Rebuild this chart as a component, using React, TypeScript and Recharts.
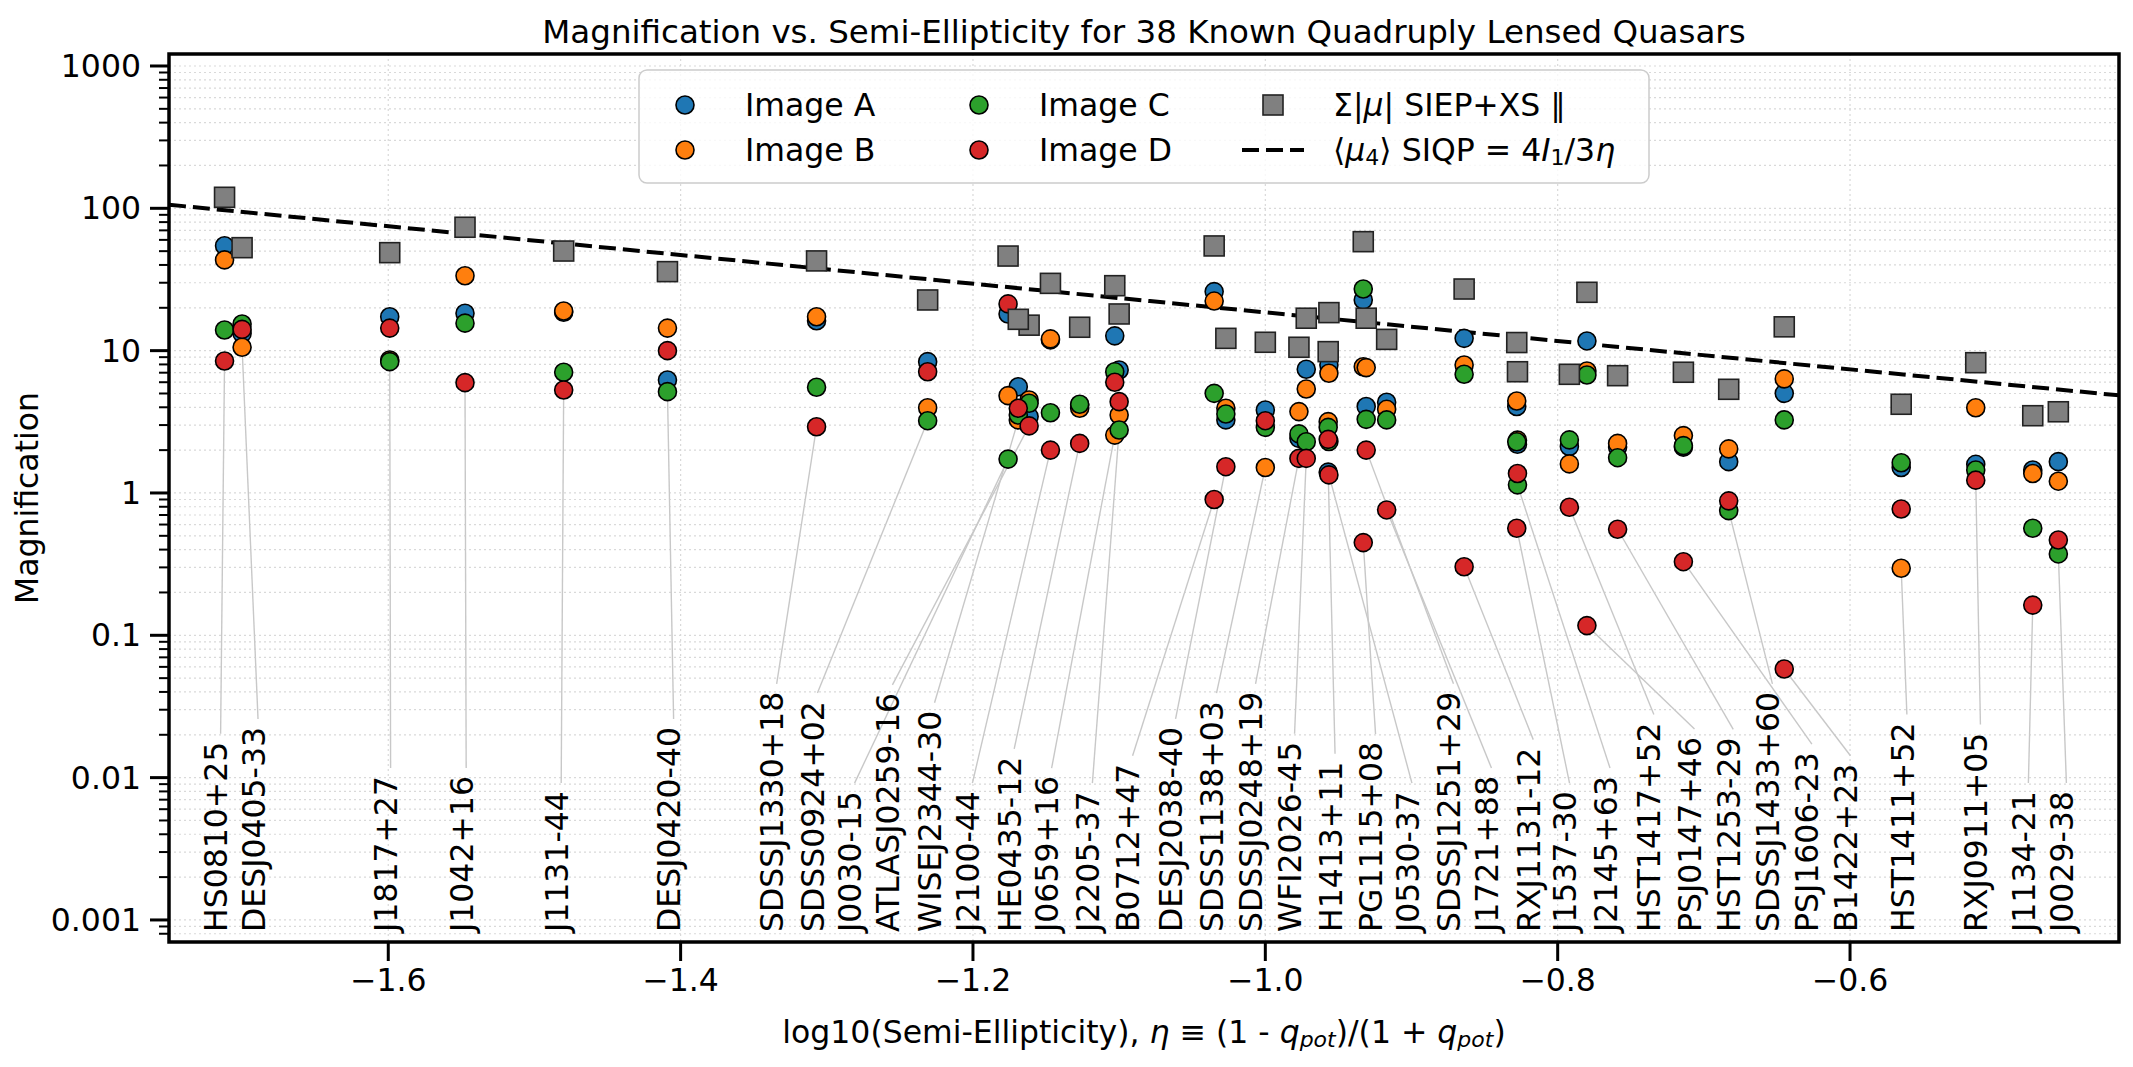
import React from 'react';
import { ScatterChart, Scatter, XAxis, YAxis, CartesianGrid, ReferenceArea } from 'recharts';

// lenses in label order (left to right)
const LENS_NAMES = [
  'HS0810+25', 'DESJ0405-33', 'J1817+27', 'J1042+16', 'J1131-44', 'DESJ0420-40', 'SDSSJ1330+18',
  'SDSS0924+02', 'J0030-15', 'ATLASJ0259-16', 'WISEJ2344-30', 'J2100-44', 'HE0435-12', 'J0659+16',
  'J2205-37', 'B0712+47', 'DESJ2038-40', 'SDSS1138+03', 'SDSSJ0248+19', 'WFI2026-45', 'H1413+11',
  'PG1115+08', 'J0530-37', 'SDSSJ1251+29', 'J1721+88', 'RXJ1131-12', 'J1537-30', 'J2145+63',
  'HST1417+52', 'PSJ0147+46', 'HST1253-29', 'SDSSJ1433+60', 'PSJ1606-23', 'B1422+23', 'HST1411+52',
  'RXJ0911+05', 'J1134-21', 'J0029-38',
];

// log10(eta) of each lens
const LOG_ETA = [
  -1.712, -1.7, -1.599, -1.5475, -1.48, -1.409, -1.307, -1.231, -1.176, -1.1616, -1.169, -1.147,
  -1.127, -1.103, -1.1, -1.035, -1.027, -1.0, -0.977, -0.972, -0.957, -0.933, -0.9565, -0.931,
  -0.917, -0.864, -0.828, -0.8275, -0.792, -0.78, -0.759, -0.683, -0.714, -0.645, -0.565, -0.514,
  -0.475, -0.4575,
];

const MU_A = [
  54.6, 13.2, 17.3, 18.3, 18.6, 6.22, 16.2, 8.37, 18.1, 3.44, 5.58, 11.9, 4.15, 12.7, 7.31, 26.0,
  3.26, 3.83, 2.42, 7.4, 1.4, 22.7, 7.93, 4.05, 4.34, 12.2, 4.05, 2.2, 2.12, 11.7, 2.1, 1.66, 2.1,
  5.01, 1.51, 1.59, 1.45, 1.66,
];
const MU_B = [
  43.4, 10.56, 8.6, 33.6, 19.0, 14.4, 17.3, 3.97, 4.83, 4.5, 3.26, 12.1, 3.94, 2.55, 3.53, 22.3,
  3.94, 1.51, 3.73, 5.38, 3.17, 7.7, 6.93, 7.6, 3.87, 7.93, 4.43, 2.35, 1.6, 7.2, 2.23, 2.04, 2.53,
  6.33, 0.296, 3.97, 1.37, 1.21,
];
const MU_C = [
  13.96, 15.4, 8.37, 15.6, 7.05, 5.15, 5.53, 3.22, 1.73, 4.27, 3.53, 3.66, 4.2, 7.11, 2.77, 5.01,
  3.59, 2.89, 2.6, 2.29, 2.89, 27.1, 2.3, 3.29, 3.26, 6.82, 2.29, 1.14, 2.36, 6.74, 1.77, 0.751,
  2.15, 3.26, 1.63, 1.45, 0.565, 0.373,
];
const MU_D = [
  8.46, 14.1, 14.4, 5.96, 5.29, 10.0, 2.92, 7.11, 21.3, 2.96, 3.94, 2.0, 2.23, 6.0, 4.38, 0.9,
  1.53, 3.22, 1.75, 1.75, 2.38, 0.448, 1.34, 2.0, 0.76, 0.303, 0.565, 1.37, 0.794, 0.117, 0.556,
  0.88, 0.329, 0.058, 0.772, 1.23, 0.163, 0.467,
];
const MU_SUM = [
  119.5, 52.9, 48.8, 73.6, 50.1, 35.9, 42.7, 22.7, 46.2, 15.1, 16.6, 29.7, 14.6, 28.6, 18.1, 54.4,
  12.2, 11.45, 10.56, 16.9, 9.84, 58.3, 18.5, 16.9, 12.0, 27.1, 11.4, 7.11, 6.82, 25.7, 6.67, 5.35,
  7.05, 14.7, 4.2, 8.23, 3.49, 3.72,
];

// where each name label sits along the x axis
const LABEL_X = [
  -1.7177, -1.6921, -1.6014, -1.5497, -1.4847, -1.4078, -1.3373, -1.3094, -1.284, -1.2581, -1.2293,
  -1.2034, -1.1748, -1.1492, -1.1213, -1.0938, -1.0644, -1.0364, -1.0097, -0.983, -0.9553, -0.9276,
  -0.9027, -0.8743, -0.8483, -0.8197, -0.7949, -0.7672, -0.7372, -0.7094, -0.6829, -0.6561, -0.6291,
  -0.6027, -0.5641, -0.5138, -0.481, -0.455,
];

// <mu_4> SIQP reference line
const DASH_X = [-1.75, -1.079, -0.762, -0.416];
const DASH_Y = [106, 22.3, 10.7, 4.85];

const X_TICKS = [-1.6, -1.4, -1.2, -1.0, -0.8, -0.6];
const Y_TICKS = [0.001, 0.01, 0.1, 1, 10, 100, 1000];
const Y_TICK_LABELS = ['0.001', '0.01', '0.1', '1', '10', '100', '1000'];

const X_DOMAIN: [number, number] = [-1.75, -0.416];
const Y_DOMAIN: [number, number] = [0.0007, 1214];

const FONT = '"DejaVu Sans", sans-serif';
const FS = 31.5;
const W = 2133;
const H = 1067;
const MARGIN = { top: 54, right: 14, bottom: 65, left: 49 };
const Y_AXIS_W = 120;
const X_AXIS_H = 60;
const PLOT_H = H - MARGIN.top - MARGIN.bottom - X_AXIS_H;
const PX_PER_DECADE = PLOT_H / (Math.log10(Y_DOMAIN[1]) - Math.log10(Y_DOMAIN[0]));
const LABEL_BASE = 0.000823;

const COLORS = { A: '#1f77b4', B: '#ff7f0e', C: '#2ca02c', D: '#d62728', sum: '#808080' };

const Y_MINOR: number[] = [];
for (let e = -4; e <= 3; e++) {
  for (let m = 2; m <= 9; m++) {
    const v = Number((m * 10 ** e).toPrecision(3));
    if (v > Y_DOMAIN[0] * 1.01 && v < Y_DOMAIN[1]) Y_MINOR.push(v);
  }
}
const Y_ALL = [...Y_TICKS, ...Y_MINOR].sort((a, b) => a - b);

function textWidth(s: string): number {
  try {
    const ctx = document.createElement('canvas').getContext('2d');
    if (ctx) {
      ctx.font = `${FS}px "DejaVu Sans"`;
      return ctx.measureText(s).width;
    }
  } catch (e) {
    // fall through
  }
  return s.length * FS * 0.64;
}

const series = (vals: number[]) => vals.map((y, i) => ({ x: LOG_ETA[i], y }));

const leaders = LENS_NAMES.map((name, i) => {
  const low = Math.min(MU_A[i], MU_B[i], MU_C[i], MU_D[i]);
  const top = LABEL_BASE * 10 ** ((textWidth(name) + 8) / PX_PER_DECADE);
  return [
    { x: LABEL_X[i] + 0.003, y: top },
    { x: LOG_ETA[i], y: low },
  ];
});

const labelData = LENS_NAMES.map((name, i) => ({ x: LABEL_X[i], y: LABEL_BASE, name }));
const dashData = DASH_X.map((x, i) => ({ x, y: DASH_Y[i] }));

const none = () => <g />;

const dot = (fill: string) => (p: any) => {
  if (p.cx == null || p.cy == null) return <g />;
  return <circle cx={p.cx} cy={p.cy} r={9} fill={fill} stroke="#000" strokeWidth={1.6} />;
};

const square = (p: any) => {
  if (p.cx == null || p.cy == null) return <g />;
  return <rect x={p.cx - 10} y={p.cy - 10} width={20} height={20} fill={COLORS.sum} stroke="#222" strokeWidth={1.6} />;
};

const nameLabel = (p: any) => {
  if (p.cx == null || p.cy == null) return <g />;
  return (
    <text
      x={p.cx}
      y={p.cy}
      transform={`rotate(-90 ${p.cx} ${p.cy})`}
      textAnchor="start"
      dominantBaseline="central"
      fontSize={FS}
      fontFamily={FONT}
      fill="#000"
    >
      {p.payload.name}
    </text>
  );
};

const YTick = (p: any) => {
  const v = p.payload.value;
  const idx = Y_TICKS.indexOf(v);
  const edge = p.x + 9 + 19;
  return (
    <g>
      <line x1={edge} x2={edge - (idx >= 0 ? 19 : 10)} y1={p.y} y2={p.y} stroke="#000" strokeWidth={idx >= 0 ? 3 : 2} />
      {idx >= 0 && (
        <text x={p.x} y={p.y} textAnchor="end" dominantBaseline="central" fontSize={FS} fontFamily={FONT} fill="#000">
          {Y_TICK_LABELS[idx]}
        </text>
      )}
    </g>
  );
};

const fmtX = (v: number) => v.toFixed(1).replace('-', '\u2212');

const LEG_ROWS = [105, 150];
const LEG_COLS = [685, 979, 1273];

function Overlay() {
  const it = { fontStyle: 'italic' as const };
  return (
    <svg width={W} height={H} style={{ position: 'absolute', left: 0, top: 0, pointerEvents: 'none' }} fontFamily={FONT}>
      <text x={1144} y={32} textAnchor="middle" dominantBaseline="central" fontSize={32.5} fill="#000">
        Magnification vs. Semi-Ellipticity for 38 Known Quadruply Lensed Quasars
      </text>
      <text
        x={27}
        y={498}
        transform="rotate(-90 27 498)"
        textAnchor="middle"
        dominantBaseline="central"
        fontSize={FS}
        fill="#000"
      >
        Magnification
      </text>
      <text x={1144} y={1032} textAnchor="middle" dominantBaseline="central" fontSize={FS} fill="#000">
        {'log10(Semi-Ellipticity), '}
        <tspan {...it}>η</tspan>
        {' \u2261 (1 - '}
        <tspan {...it}>q</tspan>
        <tspan {...it} fontSize={22} dy={7}>pot</tspan>
        <tspan dy={-7}>{')/(1 + '}</tspan>
        <tspan {...it}>q</tspan>
        <tspan {...it} fontSize={22} dy={7}>pot</tspan>
        <tspan dy={-7}>)</tspan>
      </text>

      <rect x={639} y={70} width={1010} height={113} rx={8} fill="#fff" fillOpacity={0.8} stroke="#cccccc" strokeWidth={1.5} />
      <circle cx={LEG_COLS[0]} cy={LEG_ROWS[0]} r={9} fill={COLORS.A} stroke="#000" strokeWidth={1.6} />
      <circle cx={LEG_COLS[0]} cy={LEG_ROWS[1]} r={9} fill={COLORS.B} stroke="#000" strokeWidth={1.6} />
      <circle cx={LEG_COLS[1]} cy={LEG_ROWS[0]} r={9} fill={COLORS.C} stroke="#000" strokeWidth={1.6} />
      <circle cx={LEG_COLS[1]} cy={LEG_ROWS[1]} r={9} fill={COLORS.D} stroke="#000" strokeWidth={1.6} />
      <rect x={LEG_COLS[2] - 10} y={LEG_ROWS[0] - 10} width={20} height={20} fill={COLORS.sum} stroke="#222" strokeWidth={1.6} />
      <line x1={LEG_COLS[2] - 31} x2={LEG_COLS[2] + 31} y1={LEG_ROWS[1]} y2={LEG_ROWS[1]} stroke="#000" strokeWidth={4} strokeDasharray="17 7" />

      <g fontSize={FS} fill="#000" dominantBaseline="central">
        <text x={LEG_COLS[0] + 60} y={LEG_ROWS[0]}>Image A</text>
        <text x={LEG_COLS[0] + 60} y={LEG_ROWS[1]}>Image B</text>
        <text x={LEG_COLS[1] + 60} y={LEG_ROWS[0]}>Image C</text>
        <text x={LEG_COLS[1] + 60} y={LEG_ROWS[1]}>Image D</text>
        <text x={LEG_COLS[2] + 60} y={LEG_ROWS[0]}>
          {'Σ|'}
          <tspan {...it}>μ</tspan>
          {'| SIEP+XS \u2225'}
        </text>
        <text x={LEG_COLS[2] + 60} y={LEG_ROWS[1]}>
          {'\u27e8'}
          <tspan {...it}>μ</tspan>
          <tspan fontSize={22} dy={7}>4</tspan>
          <tspan dy={-7}>{'\u27e9 SIQP = 4'}</tspan>
          <tspan {...it}>I</tspan>
          <tspan fontSize={22} dy={7}>1</tspan>
          <tspan dy={-7}>/3</tspan>
          <tspan {...it}>η</tspan>
        </text>
      </g>
    </svg>
  );
}

export default function App() {
  return (
    <div style={{ position: 'absolute', left: 0, top: 0, width: W, height: H, background: '#fff', fontFamily: FONT }}>
      <ScatterChart width={W} height={H} margin={MARGIN}>
        <CartesianGrid stroke="#d9d9d9" strokeWidth={1.2} strokeDasharray="2 3" />
        <XAxis
          type="number"
          dataKey="x"
          domain={X_DOMAIN}
          ticks={X_TICKS}
          interval={0}
          allowDataOverflow
          height={X_AXIS_H}
          tickSize={19}
          tickMargin={8}
          axisLine={false}
          tickLine={{ stroke: '#000', strokeWidth: 3 }}
          tick={{ fill: '#000', fontSize: FS, fontFamily: FONT }}
          tickFormatter={fmtX}
        />
        <YAxis
          type="number"
          dataKey="y"
          scale="log"
          domain={Y_DOMAIN}
          ticks={Y_ALL}
          interval={0}
          allowDataOverflow
          width={Y_AXIS_W}
          tickSize={19}
          tickMargin={9}
          axisLine={false}
          tickLine={false}
          tick={YTick}
        />
        {leaders.map((d, i) => (
          <Scatter
            key={`lead-${i}`}
            data={d}
            line={{ stroke: '#c8c8c8', strokeWidth: 1.4 }}
            shape={none}
            isAnimationActive={false}
          />
        ))}
        <Scatter
          data={dashData}
          line={{ stroke: '#000', strokeWidth: 4, strokeDasharray: '17 7' }}
          shape={none}
          isAnimationActive={false}
        />
        <Scatter data={series(MU_A)} shape={dot(COLORS.A)} isAnimationActive={false} />
        <Scatter data={series(MU_B)} shape={dot(COLORS.B)} isAnimationActive={false} />
        <Scatter data={series(MU_C)} shape={dot(COLORS.C)} isAnimationActive={false} />
        <Scatter data={series(MU_D)} shape={dot(COLORS.D)} isAnimationActive={false} />
        <Scatter data={series(MU_SUM)} shape={square} isAnimationActive={false} />
        <Scatter data={labelData} shape={nameLabel} isAnimationActive={false} />
        <ReferenceArea
          x1={X_DOMAIN[0]}
          x2={X_DOMAIN[1]}
          y1={Y_DOMAIN[0]}
          y2={Y_DOMAIN[1]}
          ifOverflow="visible"
          fill="none"
          stroke="#000"
          strokeWidth={3.5}
        />
      </ScatterChart>
      <Overlay />
    </div>
  );
}
